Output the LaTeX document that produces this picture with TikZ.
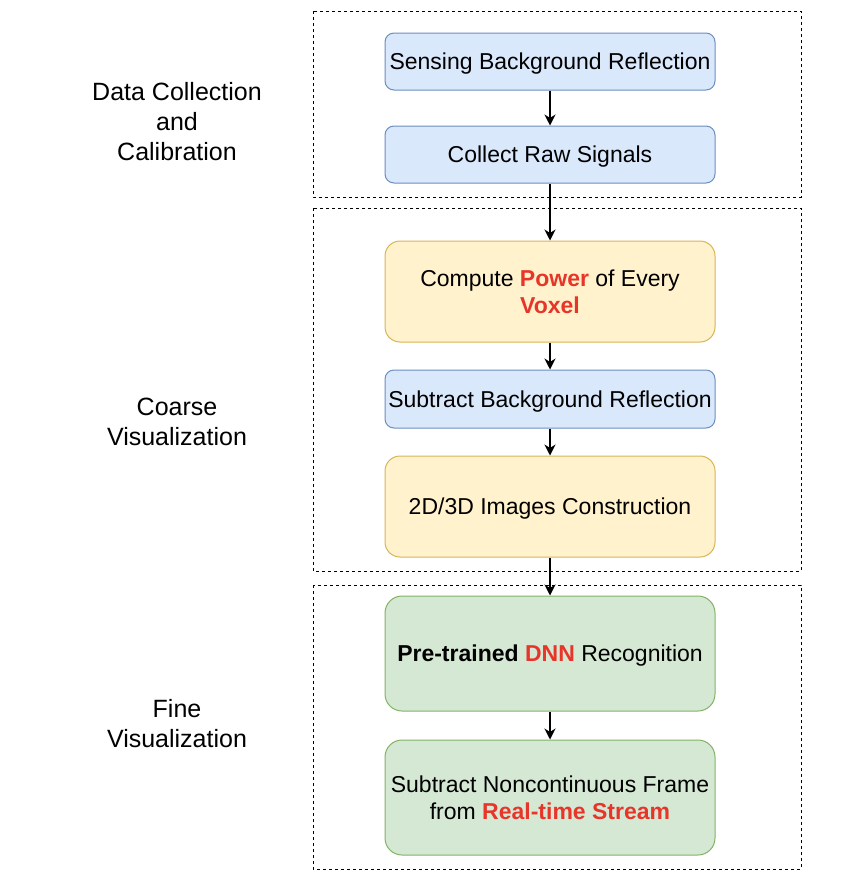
\documentclass[tikz,border=0pt]{standalone}
\usepackage{fontspec}
\setmainfont{Liberation Sans}
\usetikzlibrary{arrows.meta}
\definecolor{bluefill}{HTML}{DAE8FC}
\definecolor{bluedraw}{HTML}{6C8EBF}
\definecolor{yellowfill}{HTML}{FFF2CC}
\definecolor{yellowdraw}{HTML}{D6B656}
\definecolor{greenfill}{HTML}{D5E8D4}
\definecolor{greendraw}{HTML}{82B366}
\definecolor{hl}{HTML}{E8352A}
\newcommand{\hltext}[1]{\textcolor{hl}{\textbf{#1}}}
\tikzset{
  stepbox/.style={draw, line width=1pt, minimum width=330pt, inner sep=0pt,
    align=center, font=\fontsize{23}{27}\selectfont},
  oneline/.style={text depth=0pt},
  bluebox/.style={stepbox, oneline, fill=bluefill, draw=bluedraw, minimum height=57pt, rounded corners=9pt},
  yellowbox/.style={stepbox, fill=yellowfill, draw=yellowdraw, minimum height=101pt, rounded corners=15pt},
  greenbox/.style={stepbox, fill=greenfill, draw=greendraw, minimum height=115pt, rounded corners=17pt},
  group/.style={draw, line width=1pt, dash pattern=on 3pt off 3pt},
  phase/.style={align=center, font=\fontsize{25}{30}\selectfont},
}
\begin{document}
\begin{tikzpicture}[x=1pt,y=-1pt]
  \useasboundingbox (0,0) rectangle (860,894);
  \draw[group] (313,11) rectangle (801,197);
  \draw[group] (313,208) rectangle (801,571);
  \draw[group] (313,585) rectangle (801,869);
  \node[phase] (collect) at (177,121.5) {Data Collection\\and\\Calibration};
  \node[phase] (coarse) at (177,421.5) {Coarse\\Visualization};
  \node[phase] (fine) at (177,723.5) {Fine\\Visualization};
  \node[bluebox] (sense) at (550,61.5) {Sensing Background Reflection};
  \node[bluebox] (raw) at (550,154.5) {Collect Raw Signals};
  \node[yellowbox] (power) at (550,291.5) {Compute \hltext{Power} of Every\\\hltext{Voxel}};
  \node[bluebox, minimum height=58pt] (sub) at (550,399) {Subtract Background Reflection};
  \node[yellowbox, oneline] (img) at (550,506.5) {2D/3D Images Construction};
  \node[greenbox, oneline] (dnn) at (550,653.5) {\textbf{Pre-trained} \hltext{DNN} Recognition};
  \node[greenbox] (frame) at (550,797.5) {Subtract Noncontinuous Frame\\from \hltext{Real-time Stream}};
  \begin{scope}[-{Stealth[length=11pt,width=11pt,inset=3.5pt]}, line width=1.3pt]
    \draw (sense) to (raw);
    \draw (raw) to (power);
    \draw (power) to (sub);
    \draw (sub) to (img);
    \draw (img) to (dnn);
    \draw (dnn) to (frame);
  \end{scope}
\end{tikzpicture}
\end{document}
